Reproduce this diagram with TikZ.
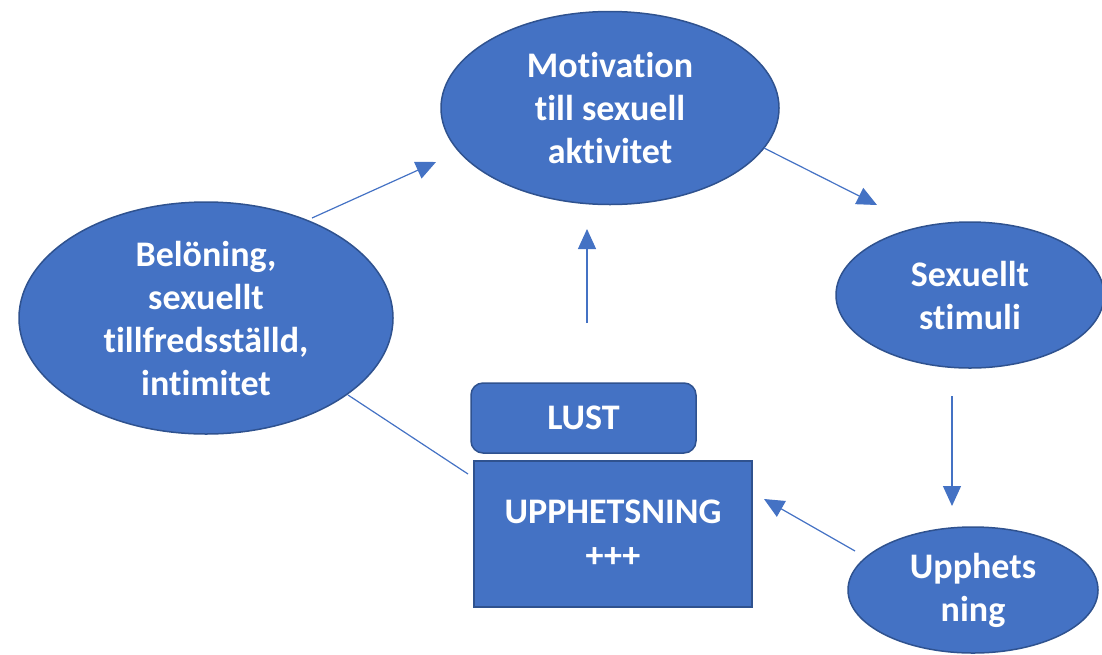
\documentclass[tikz,border=0pt]{standalone}
\usepackage{fontspec}
\setmainfont{Carlito}[Ligatures={NoCommon}]
\usetikzlibrary{shapes.geometric,arrows.meta}
\definecolor{ofblue}{HTML}{4472C4}
\definecolor{ofdark}{HTML}{2F528F}
\begin{document}
\begin{tikzpicture}[x=1pt,y=-1pt,
  blob/.style={ellipse,fill=ofblue,draw=ofdark,line width=1.5pt,inner sep=0pt,
    text=white,font=\fontsize{36}{43}\selectfont\bfseries,align=center},
  boxnode/.style={rectangle,fill=ofblue,draw=ofdark,line width=1.5pt,inner sep=0pt,
    text=white,font=\fontsize{36}{44}\selectfont\bfseries,align=center},
  conn/.style={draw=ofblue,line width=1.2pt},
  arr/.style={conn,-{Triangle[length=20pt,width=18pt]}}]
\useasboundingbox (0,0) rectangle (1102,654);
\clip (0,0) rectangle (1102,654);
\node[blob,minimum width=338pt,minimum height=193pt] (mot) at (610,108) {Motivation\\till sexuell\\aktivitet};
\node[blob,minimum width=374pt,minimum height=232pt] (bel) at (206,318) {Belöning,\\sexuellt\\tillfredsställd,\\intimitet};
\node[blob,minimum width=268pt,minimum height=146pt] (sti) at (970,295) {Sexuellt\\stimuli};
\node[blob,minimum width=250pt,minimum height=126pt] (upp) at (973,590) {Upphets\\ning};
\node[boxnode,rounded corners=12pt,minimum width=225pt,minimum height=70pt] (lust) at (583.5,418) {LUST};
\node[boxnode,minimum width=278pt,minimum height=146pt] (upph) at (613,534) {UPPHETSNING\\+++};
\coordinate (a1s) at (312,218); \coordinate (a1e) at (436,162);
\coordinate (a2s) at (764,148); \coordinate (a2e) at (877,205);
\coordinate (a3s) at (587,323); \coordinate (a3e) at (587,229);
\coordinate (a4s) at (952,396); \coordinate (a4e) at (952,506);
\coordinate (a5s) at (855,551); \coordinate (a5e) at (764,499);
\coordinate (l6s) at (348,395); \coordinate (l6e) at (468,474);
\draw[arr] (a1s) -- (a1e);
\draw[arr] (a2s) -- (a2e);
\draw[arr] (a3s) -- (a3e);
\draw[arr] (a4s) -- (a4e);
\draw[arr] (a5s) -- (a5e);
\draw[conn] (l6s) -- (l6e);
\end{tikzpicture}
\end{document}
